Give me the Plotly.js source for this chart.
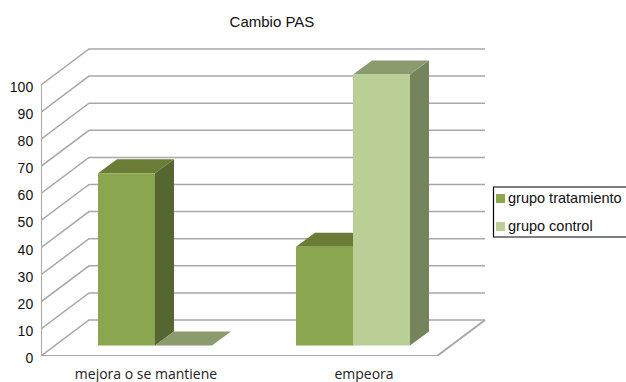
<!DOCTYPE html>
<html>
<head>
<meta charset="utf-8">
<script src="https://cdn.plot.ly/plotly-3.0.1.min.js"></script>
<style>html,body{margin:0;padding:0;background:#fff;overflow:hidden}</style>
</head>
<body>
<div id="chart" style="width:626px;height:382px"></div>
<script>
// Cambio PAS: pseudo-3D column chart, percentage of patients per outcome
const categories = ['mejora o se mantiene', 'empeora'];
const seriesNames = ['grupo tratamiento', 'grupo control'];
const tratamiento = [63.6, 36.4];
const control = [0, 100];
const yTicks = [0, 10, 20, 30, 40, 50, 60, 70, 80, 90, 100];

// Scale of the plot area, pixels per axis unit
const W = 626, H = 382, mL = 41, mB = 26;
const pxX = 198, pxY = 2.71;
const xU = p => p / pxX, yU = p => p / pxY;

// Oblique projection offsets, expressed in axis units
const wallDx = xU(48), wallDy = yU(36);
const floorEnd = 2;
const barW = xU(57), barDx = xU(19), barDy = yU(14), lift = yU(10.5);
const groupStart = xU(57);

const grid = '#a8a8a8';
const faces = [
  {front: '#8aa64f', top: '#6b7c36', side: '#566630'},
  {front: '#bacf95', top: '#8b9b6d', side: '#75845d'}
];

const poly = (pts, fill) => ({
  type: 'path', xref: 'x', yref: 'y', layer: 'below',
  path: 'M' + pts.map(p => p[0] + ',' + p[1]).join('L') + 'Z',
  fillcolor: fill, line: {width: 0}
});
const seg = (pts, width) => ({
  type: 'path', xref: 'x', yref: 'y', layer: 'below',
  path: 'M' + pts.map(p => p[0] + ',' + p[1]).join('L'),
  line: {color: grid, width: width}
});

const shapes = [];
// Walls: side wall diagonal plus back wall line at every tick
yTicks.forEach(v => {
  shapes.push(seg([[0, v], [wallDx, v + wallDy], [floorEnd + wallDx, v + wallDy]], 1.5));
});
// Floor edge and value axis
shapes.push(seg([[0, 0], [floorEnd, 0], [floorEnd + wallDx, wallDy]], 2));
shapes.push(seg([[0, 0], [0, 100]], 2));

// Side and top faces sit beneath the bar traces, which draw the front faces
const barX = s => categories.map((c, i) => i + groupStart + barW * (s + 0.5));
const seriesValues = [tratamiento, control];
seriesValues.forEach((vals, s) => {
  vals.forEach((v, i) => {
    const xr = barX(s)[i] + barW / 2, xl = xr - barW, t = v + lift;
    if (v > 0) {
      shapes.push(poly([[xr, lift], [xr + barDx, lift + barDy], [xr + barDx, t + barDy], [xr, t]], faces[s].side));
    }
    shapes.push(poly([[xl, t], [xr, t], [xr + barDx, t + barDy], [xl + barDx, t + barDy]], faces[s].top));
  });
});

const traces = seriesValues.map((vals, s) => ({
  type: 'bar', name: seriesNames[s], x: barX(s), y: vals,
  base: lift, width: barW, marker: {color: faces[s].front, line: {width: 0}},
  showlegend: false, hovertemplate: '%{y}<extra>' + seriesNames[s] + '</extra>'
}));

// Key box at the right edge of the figure
const paperX = p => (p - mL) / (W - mL);
const paperY = p => 1 - p / (H - mB);
shapes.push({type: 'rect', xref: 'paper', yref: 'paper', layer: 'above',
  x0: paperX(493.5), x1: paperX(640), y0: paperY(187), y1: paperY(237),
  fillcolor: '#fff', line: {color: '#000', width: 1.2}});
const annotations = [];
seriesNames.forEach((n, s) => {
  const cy = 198.5 + s * 28;
  shapes.push({type: 'rect', xref: 'paper', yref: 'paper', layer: 'above',
    x0: paperX(496), x1: paperX(505), y0: paperY(cy - 4.5), y1: paperY(cy + 4.5),
    fillcolor: faces[s].front, line: {width: 0}});
  annotations.push({xref: 'paper', yref: 'paper', x: paperX(506), y: paperY(cy - 1),
    xanchor: 'left', yanchor: 'middle', showarrow: false, text: n,
    font: {family: 'Liberation Sans', size: 14.5, color: '#111'}});
});

const layout = {
  width: W, height: H,
  margin: {l: mL, r: 0, t: 0, b: mB},
  paper_bgcolor: '#fff', plot_bgcolor: '#fff',
  barmode: 'overlay',
  title: {text: 'Cambio PAS', x: 272 / W, xanchor: 'center', y: 1 - 22 / H, yanchor: 'middle',
    font: {family: 'Liberation Sans', size: 15, color: '#111'}},
  xaxis: {range: [0, (W - mL) / pxX], showgrid: false, zeroline: false, showline: false,
    tickmode: 'array', tickvals: [xU(146 - mL), xU(364 - mL)], ticktext: categories,
    ticks: 'outside', ticklen: 5, tickcolor: 'rgba(0,0,0,0)',
    tickfont: {family: 'Open Sans', size: 14, color: '#222'}, fixedrange: true},
  yaxis: {range: [0, (H - mB) / pxY], showgrid: false, zeroline: false, showline: false,
    tickmode: 'array', tickvals: yTicks, ticks: 'outside', ticklen: 4, tickcolor: 'rgba(0,0,0,0)',
    ticklabelshift: 2,
    tickfont: {family: 'Liberation Sans', size: 14, color: '#111'}, fixedrange: true},
  shapes: shapes, annotations: annotations, showlegend: false
};
Plotly.newPlot('chart', traces, layout, {displayModeBar: false, staticPlot: true});
</script>
</body>
</html>
